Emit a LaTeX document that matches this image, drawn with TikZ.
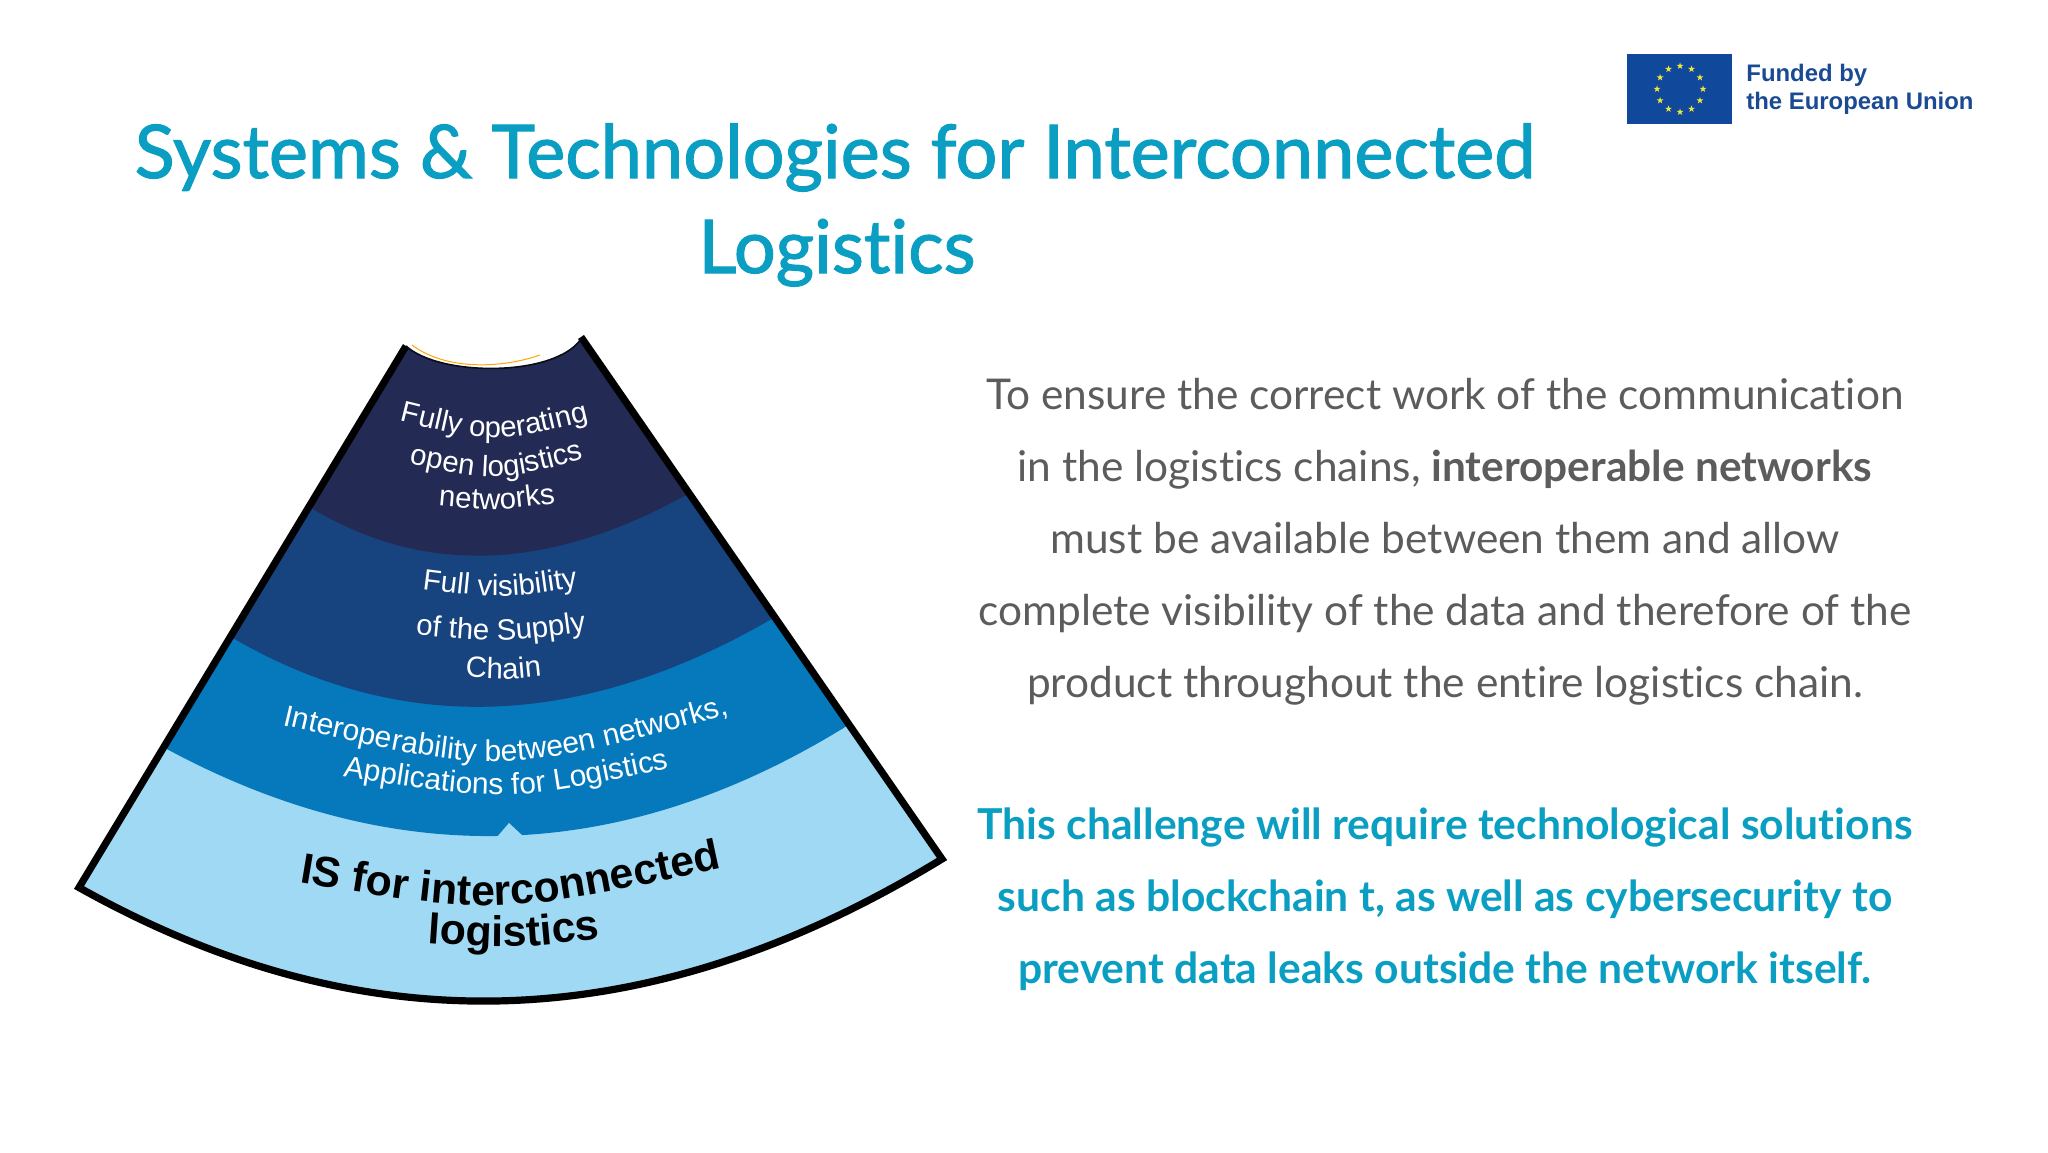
\documentclass[tikz,border=0pt]{standalone}
\usepackage{fontspec}
\usetikzlibrary{decorations.text}
\setmainfont{Lato}[Ligatures=CommonOff]
\newfontfamily\arialf{Liberation Sans}
\newfontfamily\titlef[FakeBold=1.5,Ligatures=CommonOff]{Lato}
\definecolor{titleteal}{HTML}{0A9FC2}
\definecolor{bodygray}{HTML}{5C5C5C}
\definecolor{layerA}{HTML}{232B55}
\definecolor{layerB}{HTML}{17437F}
\definecolor{layerC}{HTML}{0679BD}
\definecolor{layerD}{HTML}{9FD9F4}
\definecolor{eublue}{HTML}{10499B}
\definecolor{eutext}{HTML}{1A4A93}
\definecolor{eustar}{HTML}{F2E63C}
\tikzset{
  titletext/.style={text=titleteal,font=\titlef\fontsize{37}{37}\selectfont,anchor=base,inner sep=0pt},
  bodytext/.style={text=bodygray,font=\fontsize{21.2}{21.2}\selectfont,anchor=base,inner sep=0pt},
  tealtext/.style={text=titleteal,font=\fontsize{21.3}{21.3}\selectfont\bfseries,anchor=base,inner sep=0pt},
  eutxt/.style={text=eutext,font=\arialf\bfseries\fontsize{11.95}{11.95}\selectfont,anchor=base west,inner sep=0pt},
}
\newcommand{\fantext}[5]{%
  \path[decorate,decoration={text along path,text align=center,
    text={|#5|#4}}] #1 .. controls #2 .. #3;}
\newcommand{\wsmall}{\arialf\fontsize{14.7}{14.7}\selectfont\color{white}}
\newcommand{\wtiny}{\arialf\fontsize{15}{15}\selectfont\color{white}}
\newcommand{\bbig}{\arialf\bfseries\fontsize{21.4}{21.4}\selectfont\color{black}}
\begin{document}
\begin{tikzpicture}[x=0.5pt,y=-0.5pt]
\useasboundingbox (0,0) rectangle (2048,1152);
\fill[white] (0,0) rectangle (2048,1152);
% fan
\begin{scope}
\clip (406,346) -- (79,887.5) .. controls (369,1050) and (652,1036) .. (942,859)
  -- (581,339) .. controls (555,377) and (440,377) .. (406,346) -- cycle;
\fill[layerD] (0,300) rectangle (1000,1300);
\fill[layerC] (164,747.5) .. controls (395,873) and (624,865) .. (850,724) -- (850,300) -- (164,300) -- cycle;
\fill[layerB] (231,637) .. controls (400,736) and (582,730) .. (775,617) -- (775,300) -- (231,300) -- cycle;
\fill[layerA] (308,506) .. controls (421,576) and (548,572) .. (688,494) -- (688,300) -- (308,300) -- cycle;
\fill[layerD] (497,837) -- (509,823) -- (524,837) -- cycle;
\end{scope}
\draw[black,line width=3.6pt,miter limit=10] (581,337) -- (942,859)
  .. controls (652,1036) and (369,1050) .. (79,887.5) -- (406,346);
\draw[black!70!layerA,line width=0.8pt] (406,346) .. controls (440,377) and (555,377) .. (581,339);
\draw[orange!70!yellow,line width=0.5pt] (412,345) .. controls (445,370) and (500,369) .. (540,355);
% fan labels
\fantext{(393,419)}{(494,444)}{(596,419)}{Fully operating}{\wsmall}
\fantext{(401,462)}{(497,482)}{(592,457)}{open logistics}{\wsmall}
\fantext{(430,505)}{(497,511)}{(564,502)}{networks}{\wsmall}
\fantext{(414,588)}{(500,599)}{(586,586)}{Full visibility}{\wsmall}
\fantext{(407,634)}{(500,643)}{(595,630)}{of the Supply}{\wsmall}
\fantext{(456,676)}{(503,680)}{(551,675)}{Chain}{\wsmall}
\fantext{(270,722)}{(500,776)}{(742,711)}{Interoperability between networks,}{\wtiny}
\fantext{(329,774)}{(506,803)}{(683,765)}{Applications for Logistics}{\wtiny}
\fantext{(285,880)}{(500,916)}{(736,865)}{IS for interconnected}{\bbig}
\fantext{(413,942)}{(512,949)}{(615,937)}{logistics}{\bbig}
% title
\node[titletext] (t1) at (835,178) {Systems \& Technologies for Interconnected};
\node[titletext] (t2) at (837,273) {Logistics};
% body
\node[bodytext] (b1) at (1445,409) {To ensure the correct work of the communication};
\node[bodytext] (b2) at (1445,481) {in the logistics chains, \textbf{interoperable networks}};
\node[bodytext] (b3) at (1445,553) {must be available between them and allow};
\node[bodytext] (b4) at (1445,625) {complete visibility of the data and therefore of the};
\node[bodytext] (b5) at (1445,697) {product throughout the entire logistics chain.};
\node[tealtext] (c1) at (1445,839) {This challenge will require technological solutions};
\node[tealtext] (c2) at (1445,911) {such as blockchain t, as well as cybersecurity to};
\node[tealtext] (c3) at (1445,983) {prevent data leaks outside the network itself.};
% EU flag
\fill[eublue] (1627,54) rectangle (1732,124);
\foreach \a in {0,30,...,330}{
  \fill[eustar] ({1680+23*cos(\a)},{89+23*sin(\a)}) ++(-90:3.6)
    -- ++(-54:0) \foreach \k in {1,...,4}{ -- ({1680+23*cos(\a)+3.6*cos(-90+72*2*\k)},{89+23*sin(\a)+3.6*sin(-90+72*2*\k)})} -- cycle;
}
\node[eutxt] (e1) at (1746,81) {Funded by};
\node[eutxt] (e2) at (1746,109) {the European Union};
\end{tikzpicture}
\end{document}
